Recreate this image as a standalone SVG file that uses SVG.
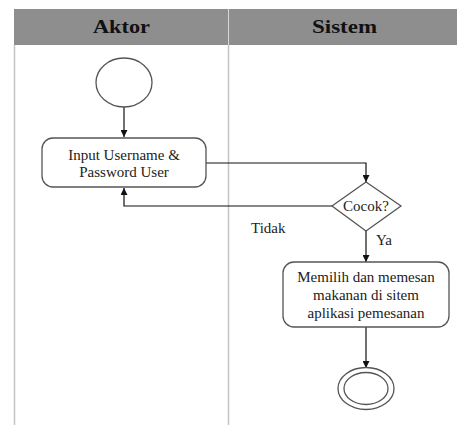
<svg xmlns="http://www.w3.org/2000/svg" width="457" height="425" viewBox="0 0 457 425">
  <style>
    .lane { stroke: #c4c4c4; stroke-width: 1.5; fill: none; }
    .head { fill: #8e8e8e; }
    .headtxt { font-family: 'Liberation Serif', 'Times New Roman', Times, serif; font-weight: bold; font-size: 19px; fill: #111; text-anchor: middle; }
    .shape { fill: #fff; stroke: #555; stroke-width: 1.3; }
    .txt { font-family: 'Liberation Serif', 'Times New Roman', Times, serif; font-size: 15px; fill: #222; text-anchor: middle; }
    .lbl { font-family: 'Liberation Serif', 'Times New Roman', Times, serif; font-size: 15px; fill: #222; }
    .edge { stroke: #111; stroke-width: 1.2; fill: none; marker-end: url(#arrow); }
  </style>
  <defs>
    <marker id="arrow" viewBox="0 0 10 10" refX="10" refY="5" markerWidth="7" markerHeight="7" markerUnits="userSpaceOnUse" orient="auto">
      <path d="M0,0 L10,5 L0,10 Z" fill="#111"/>
    </marker>
  </defs>

  <rect width="457" height="425" fill="#fff"/>

  <!-- swimlanes -->
  <g id="lanes">
    <rect class="head" x="14" y="9" width="443" height="36"/>
    <line x1="228.5" y1="9" x2="228.5" y2="45" stroke="#d8d8d8" stroke-width="1"/>
    <line class="lane" x1="14.5" y1="45" x2="14.5" y2="425"/>
    <line class="lane" x1="228.5" y1="45" x2="228.5" y2="425"/>
    <text class="headtxt" x="121.5" y="33" textLength="57" lengthAdjust="spacingAndGlyphs">Aktor</text>
    <text class="headtxt" x="344.5" y="33" textLength="65" lengthAdjust="spacingAndGlyphs">Sistem</text>
  </g>

  <!-- connectors -->
  <g id="connectors">
    <path class="edge" d="M124,107 V137"/>
    <path class="edge" d="M206,163 H366 V182"/>
    <path class="edge" d="M332,206 H124 V188"/>
    <path class="edge" d="M366,231 V262"/>
    <path class="edge" d="M366,327 V368"/>
    <text class="lbl" x="251" y="233">Tidak</text>
    <text class="lbl" x="376" y="245">Ya</text>
  </g>

  <g id="start">
    <ellipse class="shape" cx="124" cy="82.5" rx="28" ry="24.5"/>
  </g>

  <g id="input">
    <rect class="shape" x="42" y="138" width="164" height="49" rx="11"/>
    <text class="txt" x="124" y="160">Input Username &amp;</text>
    <text class="txt" x="124" y="177">Password User</text>
  </g>

  <g id="decision">
    <polygon class="shape" points="366,182 401,206 366,231 332,206"/>
    <text class="txt" x="366" y="211">Cocok?</text>
  </g>

  <g id="order">
    <rect class="shape" x="283" y="262" width="166" height="65" rx="11"/>
    <text class="txt" x="366" y="282">Memilih dan memesan</text>
    <text class="txt" x="366" y="300">makanan di sitem</text>
    <text class="txt" x="366" y="318">aplikasi pemesanan</text>
  </g>

  <g id="end">
    <ellipse class="shape" cx="366" cy="388.5" rx="28" ry="21"/>
    <ellipse class="shape" cx="366" cy="388.5" rx="22" ry="16"/>
  </g>
</svg>
